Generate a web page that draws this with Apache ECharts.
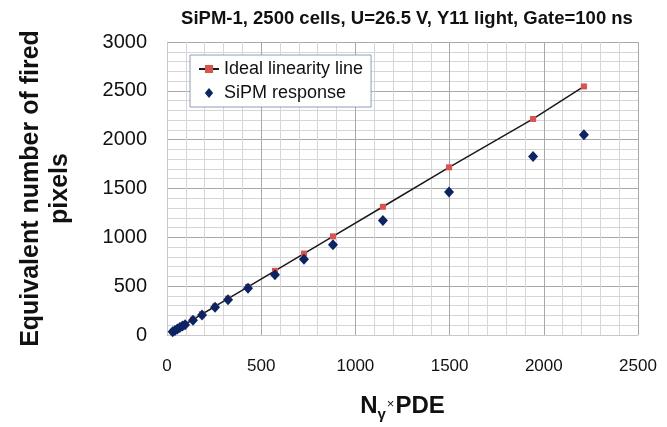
<!DOCTYPE html>
<html>
<head>
<meta charset="utf-8">
<script src="https://cdn.jsdelivr.net/npm/echarts@6/dist/echarts.min.js"></script>
<style>
  html, body { margin: 0; padding: 0; background: #fff; }
  #chart { width: 667px; height: 427px; }
</style>
</head>
<body>
<div id="chart"></div>
<script>
// N_gamma x PDE values (x axis)
const nPde = [30, 42, 55, 68, 82, 96, 138, 186, 255, 324, 430, 573, 727, 881, 1146, 1497, 1943, 2213]
// ideal linearity line
const idealFired = [34, 48, 63, 78, 94, 110, 158, 213, 292, 372, 493, 657, 834, 1010, 1313, 1717, 2212, 2545]
// measured SiPM response
const sipmFired = [33, 47, 61, 76, 91, 106, 152, 205, 283, 360, 478, 618, 775, 925, 1172, 1465, 1828, 2050]

const xTicks = [0, 500, 1000, 1500, 2000, 2500]
const yTicks = [0, 500, 1000, 1500, 2000, 2500, 3000]

const chart = echarts.init(document.getElementById('chart'))

const idealData = nPde.map((x, i) => [x, idealFired[i]])
const sipmData = nPde.map((x, i) => [x, sipmFired[i]])

// 主网格线和次网格线
const majorLine = { show: true, lineStyle: { color: '#a8a8a8', width: 1 } }
const minorLine = { show: true, lineStyle: { color: '#d6d6d6', width: 1 } }
const minorTick = { show: true, splitNumber: 5, length: 0 }

const option = {
  animation: false,
  backgroundColor: '#fff',
  textStyle: { fontFamily: 'Arial, "Liberation Sans", sans-serif' },
  title: {
    text: 'SiPM-1, 2500 cells, U=26.5 V, Y11 light, Gate=100 ns',
    left: 402,
    textAlign: 'center',
    top: 4,
    textStyle: { fontSize: 18.5, fontWeight: 'bold', color: '#111' }
  },
  legend: {
    orient: 'vertical',
    left: 190,
    top: 55,
    padding: [5, 8, 5, 8],
    itemGap: 6,
    itemWidth: 20,
    itemHeight: 10,
    backgroundColor: '#fff',
    borderColor: '#8c9cc0',
    borderWidth: 1,
    borderRadius: 0,
    textStyle: { fontSize: 18, color: '#111' },
    data: [
      { name: 'Ideal linearity line' },
      { name: 'SiPM response', icon: 'path://M5,0L10,6L5,12L0,6Z' }
    ]
  },
  grid: {
    left: 167,
    top: 42,
    right: 29,
    bottom: 88
  },
  xAxis: {
    type: 'value',
    min: xTicks[0],
    max: xTicks[xTicks.length - 1],
    interval: 500,
    name: '{n|N}{g|γ}{x|×}{n|PDE}',
    nameLocation: 'middle',
    nameGap: 56,
    nameTextStyle: {
      rich: {
        n: { fontSize: 24, fontWeight: 'bold', color: '#111' },
        g: { fontSize: 15, fontWeight: 'bold', color: '#111', padding: [16, 0, 0, 0] },
        x: { fontSize: 13, color: '#111', padding: [0, 1, 5, 1] }
      }
    },
    axisLine: { show: true, lineStyle: { color: '#c8c8c8' } },
    axisTick: { show: false },
    axisLabel: { fontSize: 17, color: '#111', margin: 23, formatter: v => String(v) },
    splitLine: majorLine,
    minorTick: minorTick,
    minorSplitLine: minorLine
  },
  yAxis: {
    type: 'value',
    min: yTicks[0],
    max: yTicks[yTicks.length - 1],
    interval: 500,
    name: 'Equivalent number of fired\npixels',
    nameLocation: 'middle',
    nameGap: 92,
    nameTextStyle: { fontSize: 25, fontWeight: 'bold', color: '#111', lineHeight: 29 },
    axisLine: { show: true, lineStyle: { color: '#c8c8c8' } },
    axisTick: { show: false },
    axisLabel: { fontSize: 20, color: '#111', margin: 20, formatter: v => String(v) },
    splitLine: majorLine,
    minorTick: minorTick,
    minorSplitLine: minorLine
  },
  series: [
    {
      name: 'Ideal linearity line',
      type: 'line',
      data: idealData,
      symbol: 'rect',
      symbolSize: 6,
      showAllSymbol: true,
      itemStyle: { color: '#e0514c' },
      lineStyle: { color: '#1a1a1a', width: 1.5 },
      z: 2
    },
    {
      name: 'SiPM response',
      type: 'scatter',
      data: sipmData,
      symbol: 'diamond',
      symbolSize: [10, 11],
      itemStyle: { color: '#0b2466', opacity: 1 },
      z: 3
    }
  ]
}

chart.setOption(option)
</script>
</body>
</html>
